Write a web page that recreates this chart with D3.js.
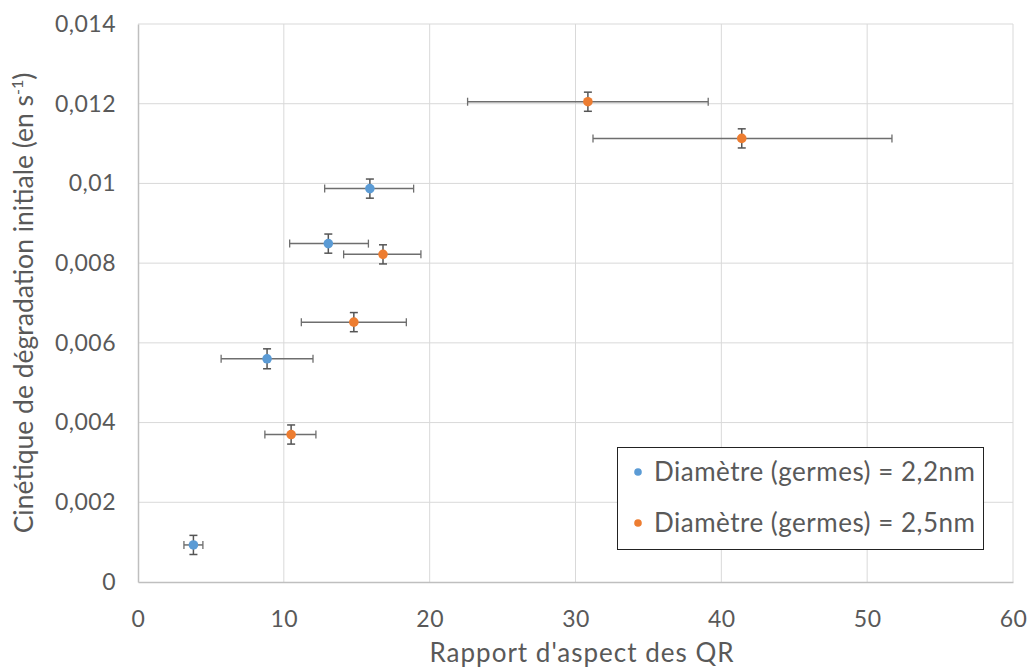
<!DOCTYPE html>
<html><head><meta charset="utf-8">
<script src="https://cdn.jsdelivr.net/npm/d3@7"></script>
<style>body{margin:0;background:#fff}text{font-family:Lato,"Open Sans",sans-serif}</style>
</head><body><svg id="c" width="1030" height="670"></svg>
<script>
const xTicks=[0,10,20,30,40,50,60];
const yTicks=[0,0.002,0.004,0.006,0.008,0.01,0.012,0.014];
const yTickLabels=["0","0,002","0,004","0,006","0,008","0,01","0,012","0,014"];
const seriesNames=["Diamètre (germes) = 2,2nm","Diamètre (germes) = 2,5nm"];
const blueX=[3.8,8.85,13.05,15.9];
const blueY=[0.00093,0.0056,0.00849,0.00987];
const blueXLo=[3.15,5.7,10.4,12.8];
const blueXHi=[4.45,12.0,15.8,18.9];
const blueYErr=[0.00024,0.00025,0.00024,0.00024];
const orangeX=[10.5,14.8,16.8,30.85,41.4];
const orangeY=[0.0037,0.00652,0.00822,0.01205,0.01113];
const orangeXLo=[8.7,11.2,14.1,22.6,31.2];
const orangeXHi=[12.2,18.4,19.4,39.1,51.7];
const orangeYErr=[0.00024,0.00024,0.00024,0.00024,0.00024];
const colors=["#5B9BD5","#ED7D31"];

const svg=d3.select("#c");
const x=d3.scaleLinear().domain([0,60]).range([138,1013]);
const y=d3.scaleLinear().domain([0,0.014]).range([582,24]);

svg.append("g").selectAll("line").data(xTicks.slice(1)).join("line")
 .attr("x1",d=>x(d)).attr("x2",d=>x(d)).attr("y1",y(0)).attr("y2",y(0.014))
 .attr("stroke","#d9d9d9").attr("stroke-width",1);
svg.append("g").selectAll("line").data(yTicks.slice(1)).join("line")
 .attr("x1",x(0)).attr("x2",x(60)).attr("y1",d=>y(d)).attr("y2",d=>y(d))
 .attr("stroke","#d9d9d9").attr("stroke-width",1);
const xa=svg.append("g").attr("transform",`translate(0,${y(0)})`)
 .call(d3.axisBottom(x).tickValues(xTicks).tickSize(0));
const ya=svg.append("g").attr("transform",`translate(${x(0)},0)`)
 .call(d3.axisLeft(y).tickValues(yTicks).tickFormat((d,i)=>yTickLabels[i]).tickSize(0).tickPadding(22));
[xa,ya].forEach(a=>{a.select(".domain").attr("stroke","#bfbfbf").attr("stroke-width",1.5);
 a.selectAll("text").attr("fill","#595959").attr("font-size",23).attr("letter-spacing",0.5)
  .attr("font-family","Lato,'Open Sans',sans-serif");});
xa.selectAll("text").attr("y",45).attr("dy",0);

function drawSeries(xs,ys,lo,hi,ye,col){
 const g=svg.append("g");
 const data=xs.map((v,i)=>({x:v,y:ys[i],lo:lo[i],hi:hi[i],e:ye[i]}));
 const eb="#6e6e6e";
 g.selectAll(".h").data(data).join("line").attr("x1",d=>x(d.lo)).attr("x2",d=>x(d.hi))
  .attr("y1",d=>y(d.y)).attr("y2",d=>y(d.y)).attr("stroke",eb).attr("stroke-width",1.5);
 g.selectAll(".hc1").data(data).join("line").attr("x1",d=>x(d.lo)).attr("x2",d=>x(d.lo))
  .attr("y1",d=>y(d.y)-4).attr("y2",d=>y(d.y)+4).attr("stroke",eb).attr("stroke-width",1.3);
 g.selectAll(".hc2").data(data).join("line").attr("x1",d=>x(d.hi)).attr("x2",d=>x(d.hi))
  .attr("y1",d=>y(d.y)-4).attr("y2",d=>y(d.y)+4).attr("stroke",eb).attr("stroke-width",1.3);
 g.selectAll(".v").data(data).join("line").attr("x1",d=>x(d.x)).attr("x2",d=>x(d.x))
  .attr("y1",d=>y(d.y-d.e)).attr("y2",d=>y(d.y+d.e)).attr("stroke","#555").attr("stroke-width",1.5);
 g.selectAll(".vc1").data(data).join("line").attr("x1",d=>x(d.x)-4).attr("x2",d=>x(d.x)+4)
  .attr("y1",d=>y(d.y-d.e)).attr("y2",d=>y(d.y-d.e)).attr("stroke","#555").attr("stroke-width",1.5);
 g.selectAll(".vc2").data(data).join("line").attr("x1",d=>x(d.x)-4).attr("x2",d=>x(d.x)+4)
  .attr("y1",d=>y(d.y+d.e)).attr("y2",d=>y(d.y+d.e)).attr("stroke","#555").attr("stroke-width",1.5);
 g.selectAll("circle").data(data).join("circle").attr("cx",d=>x(d.x)).attr("cy",d=>y(d.y))
  .attr("r",4.8).attr("fill",col);
}
drawSeries(blueX,blueY,blueXLo,blueXHi,blueYErr,colors[0]);
drawSeries(orangeX,orangeY,orangeXLo,orangeXHi,orangeYErr,colors[1]);

svg.append("text").attr("x",582).attr("y",662).attr("text-anchor","middle")
 .attr("font-size",26).attr("letter-spacing",1).attr("fill","#595959").text("Rapport d'aspect des QR");
const yt=svg.append("text").attr("transform","translate(33,303) rotate(-90)").attr("text-anchor","middle")
 .attr("font-size",26.5).attr("fill","#595959");
yt.append("tspan").text("Cinétique de dégradation initiale (en s");
yt.append("tspan").attr("font-size",16).attr("dy",-10).text("-1");
yt.append("tspan").attr("dy",10).text(")");

const lg=svg.append("g");
lg.append("rect").attr("x",617.5).attr("y",447.5).attr("width",366).attr("height",102)
 .attr("fill","#fff").attr("stroke","#222").attr("stroke-width",1);
seriesNames.forEach((n,i)=>{
 const cy=472+i*51;
 lg.append("circle").attr("cx",638).attr("cy",cy).attr("r",3.8).attr("fill",colors[i]);
 lg.append("text").attr("x",654).attr("y",cy).attr("dy","0.36em").attr("font-size",26)
  .attr("letter-spacing",0.5).attr("fill","#595959").text(n);
});
</script></body></html>
